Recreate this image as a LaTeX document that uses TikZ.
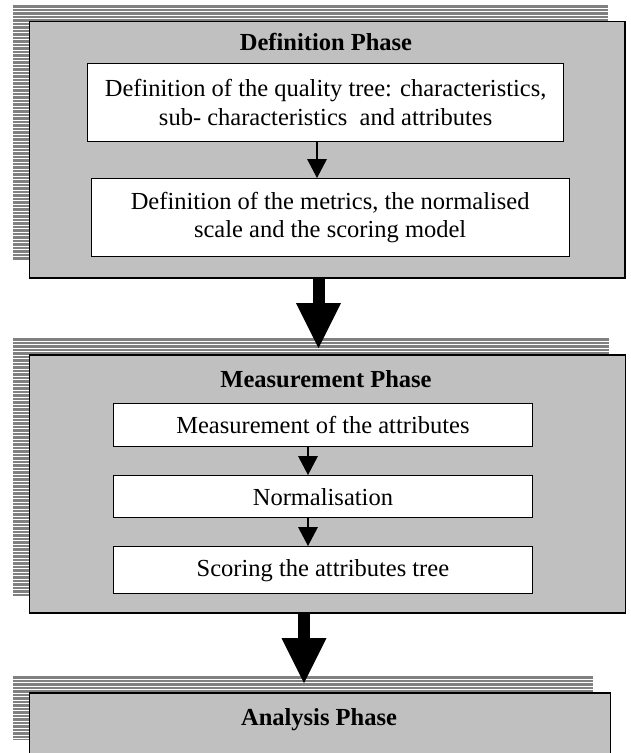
\documentclass[tikz,border=0pt]{standalone}
\usepackage{fontspec}
\setmainfont{Liberation Serif}
\usetikzlibrary{arrows.meta}
\definecolor{panelgray}{HTML}{C0C0C0}
\definecolor{stripegray}{HTML}{808080}
\newcommand{\stripebox}[4]{%
  \begin{scope}
    \clip (#1,#2) rectangle (#3,#4);
    \foreach \k in {0,...,75} {\fill[stripegray] (#1,#2+\k*3.5) rectangle (#3,#2+\k*3.5+2.6);}
  \end{scope}}
\begin{document}
\begin{tikzpicture}[x=1pt,y=-1pt,
  txt/.style={font=\fontsize{24.5}{28.5}\selectfont},
  panel/.style={draw=black, line width=1.5pt, fill=panelgray, anchor=north west, inner sep=0pt},
  stepbox/.style={draw=black, line width=1.3pt, fill=white, anchor=north west, inner sep=0pt, align=center, txt},
  title/.style={font=\fontsize{24.5}{28.5}\selectfont\bfseries},
  smallarr/.style={line width=1.1pt, -{Triangle[width=20pt,length=19pt,line width=0pt]}},
  bigarr/.style={line width=12pt, -{Triangle[width=45pt,length=45pt,line width=0pt]}}]
\useasboundingbox (0,0) rectangle (630,753);
% Definition phase
\stripebox{13}{5}{608}{259}
\node[panel, minimum width=595.5pt, minimum height=256.5pt] (def) at (28.5,20.5) {};
\node[title] (defT) at (326,42) {Definition Phase};
\node[stepbox, minimum width=476pt, minimum height=78pt] (d1) at (87,63)
  {Definition of the quality tree: characteristics,\\ sub- characteristics\ \ and attributes};
\node[stepbox, minimum width=478pt, minimum height=78pt] (d2) at (90.5,178)
  {Definition of the metrics, the normalised\\ scale and the scoring model};
\coordinate (s1) at (317,0);
\draw[smallarr] (d1.south -| s1) -- (d2.north -| s1);
% Measurement phase
\stripebox{13}{338}{609}{595}
\node[panel, minimum width=596pt, minimum height=258pt] (meas) at (28.5,354) {};
\node[title] (measT) at (326,379) {Measurement Phase};
\node[stepbox, minimum width=419.5pt, minimum height=43pt] (m1) at (112.5,403) {Measurement of the attributes};
\node[stepbox, minimum width=419.5pt, minimum height=42pt] (m2) at (112.5,475) {Normalisation};
\node[stepbox, minimum width=419.5pt, minimum height=47pt] (m3) at (112.5,546) {Scoring the attributes tree};
\coordinate (s2) at (308,0);
\draw[smallarr] (m1.south -| s2) -- (m2.north -| s2);
\draw[smallarr] (m2.south -| s2) -- (m3.north -| s2);
% Analysis phase
\stripebox{13}{676}{593}{739}
\node[panel, minimum width=581pt, minimum height=90pt] (an) at (28.5,692) {};
\node[title] (anT) at (319,720) {Analysis Phase};
% big arrows
\coordinate (a1) at (318.5,0);
\coordinate (a2) at (304,0);
\draw[bigarr, shorten >=6pt] (def.south -| a1) -- (meas.north -| a1);
\draw[bigarr, shorten >=9pt] (meas.south -| a2) -- (an.north -| a2);
\end{tikzpicture}
\end{document}
